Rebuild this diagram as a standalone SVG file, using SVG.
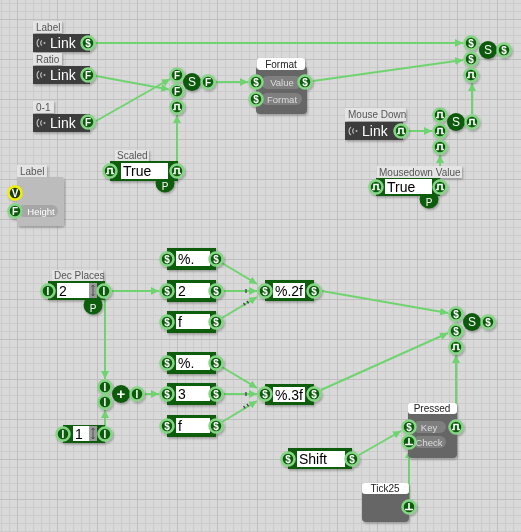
<svg xmlns="http://www.w3.org/2000/svg" width="521" height="532" viewBox="0 0 521 532">
<defs>
<pattern id="grid" width="40" height="40" patternUnits="userSpaceOnUse" x="17" y="19">
<rect width="40" height="40" fill="#d9d9d9"/>
<path d="M8.5 0V40M16.5 0V40M24.5 0V40M32.5 0V40M0 8.5H40M0 16.5H40M0 24.5H40M0 32.5H40" stroke="#cbcbcb" stroke-width="1"/>
<path d="M0.5 0V40M0 0.5H40" stroke="#bebebe" stroke-width="1"/>
</pattern>
<marker id="ar" viewBox="0 0 8 8" refX="8" refY="4" markerWidth="8" markerHeight="8" markerUnits="userSpaceOnUse" orient="auto">
<path d="M0 0L8 4L0 8z" fill="#6fd46f"/>
</marker>
<filter id="sh" x="-20%" y="-20%" width="140%" height="140%">
<feDropShadow dx="1" dy="1.5" stdDeviation="0.8" flood-color="#000" flood-opacity="0.3"/>
</filter>
<style>
.cn{stroke:#6fd46f;stroke-width:2;fill:none;marker-end:url(#ar)}
.pt{fill:#0c5c0c;stroke:#86d486;stroke-width:2.5}
.py{fill:#1e3a0c;stroke:#f0f000;stroke-width:2.5}
.pl{fill:#fff;font-family:"Liberation Sans",Arial,sans-serif;font-size:10px;font-weight:bold;text-anchor:middle}
.ic{stroke:#fff;stroke-width:1.6;fill:none}
.jc{fill:#0b5a0b}
.jl{fill:#fff;font-family:"Liberation Sans",Arial,sans-serif;font-size:12px;text-anchor:middle}
.tab{fill:#e4e4e4}
.tabw{fill:#fff}
.tt{fill:#555;font-family:"Liberation Sans",Arial,sans-serif;font-size:10px}
.tw{fill:#222;font-family:"Liberation Sans",Arial,sans-serif;font-size:10px;text-anchor:middle}
.lk{fill:#3d3d3d}
.lki{stroke:#bbb;stroke-width:1.2;fill:none}
.lkt{fill:#fff;font-family:"Liberation Sans",Arial,sans-serif;font-size:14px}
.gn{fill:#0b5d0b}
.wb{fill:#fff}
.sp{fill:#9a9a9a}
.spi{stroke:#555;stroke-width:1;fill:none}
.vt{fill:#000;font-family:"Liberation Sans",Arial,sans-serif;font-size:14px}
.gb{fill:#666}
.pill{fill:#7f7f7f}
.plt{fill:#ddd;font-family:"Liberation Sans",Arial,sans-serif;font-size:9.5px;text-anchor:middle}
.mk{stroke:#444;stroke-width:1.3}
</style>
</defs>
<rect width="521" height="532" fill="url(#grid)"/>

<g id="connectors">
<path class="cn" d="M96 43H463"/>
<path class="cn" d="M96 76L169 89.5"/>
<path class="cn" d="M96 121L170 79"/>
<path class="cn" d="M216 82H248"/>
<path class="cn" d="M177 163V115"/>
<path class="cn" d="M313 81L463 60"/>
<path class="cn" d="M409 131H432"/>
<path class="cn" d="M472 114V83"/>
<path class="cn" d="M440 179V155"/>
<path class="cn" d="M112 291H159"/>
<path class="cn" d="M105 299V379"/>
<path class="cn" d="M105 426V410"/>
<path class="cn" d="M145 394H159"/>
<path class="cn" d="M222 263L257 284"/>
<path class="cn" d="M224 291H257"/>
<path class="cn" d="M222 318L257 297"/>
<path class="cn" d="M222 367L257 388"/>
<path class="cn" d="M224 394H257"/>
<path class="cn" d="M222 422L257 401"/>
<path class="cn" d="M322 291L448 313"/>
<path class="cn" d="M321 390L448 333"/>
<path class="cn" d="M456 419V355"/>
<path class="cn" d="M359 455L401 431"/>
<path class="cn" d="M409 499V450"/>
<path class="mk" d="M246 289V293M243.5 302.8L245.2 305.4M246.9 300.8L248.6 303.4"/>
<path class="mk" d="M246 392V396M243.5 405.8L245.2 408.4M246.9 403.8L248.6 406.4"/>
</g>

<g id="link-label" filter="url(#sh)">
<rect class="tab" x="33" y="21" width="29" height="12"/>
<text class="tt" x="36" y="30.5">Label</text>
<rect class="lk" x="33" y="34" width="57" height="18"/>
<path class="lki" d="M39 39a5 5 0 0 0 0 8M42 40.5a3 3 0 0 0 0 5"/>
<circle cx="44.5" cy="43" r="1" fill="#bbb"/>
<text class="lkt" x="50" y="48">Link</text>
<circle class="pt" cx="88" cy="43" r="6.5"/><text class="pl" x="88" y="46.5">$</text>
</g>

<g id="link-ratio" filter="url(#sh)">
<rect class="tab" x="33" y="53" width="29" height="12"/>
<text class="tt" x="36" y="62.5">Ratio</text>
<rect class="lk" x="33" y="66" width="57" height="18"/>
<path class="lki" d="M39 71a5 5 0 0 0 0 8M42 72.5a3 3 0 0 0 0 5"/>
<circle cx="44.5" cy="75" r="1" fill="#bbb"/>
<text class="lkt" x="50" y="80">Link</text>
<circle class="pt" cx="88" cy="75" r="6.5"/><text class="pl" x="88" y="78.5">F</text>
</g>

<g id="link-01" filter="url(#sh)">
<rect class="tab" x="33" y="101" width="21" height="12"/>
<text class="tt" x="36" y="110.5">0-1</text>
<rect class="lk" x="33" y="114" width="57" height="18"/>
<path class="lki" d="M39 119a5 5 0 0 0 0 8M42 120.5a3 3 0 0 0 0 5"/>
<circle cx="44.5" cy="123" r="1" fill="#bbb"/>
<text class="lkt" x="50" y="128">Link</text>
<circle class="pt" cx="88" cy="122" r="6.5"/><text class="pl" x="88" y="125.5">F</text>
</g>

<g id="junction-ratio" filter="url(#sh)">
<circle class="jc" cx="192" cy="82" r="9"/><text class="jl" x="192" y="86">S</text>
<circle class="pt" cx="177" cy="75" r="6.5"/><text class="pl" x="177" y="78.5">F</text>
<circle class="pt" cx="177" cy="91" r="6.5"/><text class="pl" x="177" y="94.5">F</text>
<circle class="pt" cx="177" cy="107" r="6.5"/><path class="ic" d="M173 109.5h2v-5h4v5h2"/>
<circle class="pt" cx="208" cy="82" r="6.5"/><text class="pl" x="208" y="85.5">F</text>
</g>

<g id="scaled" filter="url(#sh)">
<rect class="tab" x="115" y="150" width="34" height="11"/>
<text class="tt" x="117" y="159">Scaled</text>
<rect class="gn" x="110" y="161" width="68" height="20"/>
<circle class="gn" cx="165" cy="183" r="9.5"/>
<rect class="wb" x="121" y="163" width="47" height="16"/>
<text class="vt" x="123" y="176">True</text>
<text class="pl" x="165" y="190" style="font-weight:normal">P</text>
<circle class="pt" cx="110" cy="171" r="6.5"/><path class="ic" d="M106 173.5h2v-5h4v5h2"/>
<circle class="pt" cx="177" cy="171" r="6.5"/><path class="ic" d="M173 173.5h2v-5h4v5h2"/>
</g>

<g id="format" filter="url(#sh)">
<rect class="gb" x="256" y="66" width="51" height="48" rx="4"/>
<rect class="tabw" x="257" y="58" width="48" height="12" rx="3"/>
<text class="tw" x="281" y="67.5">Format</text>
<rect class="pill" x="261" y="76" width="41" height="13" rx="6.5"/>
<text class="plt" x="282" y="86">Value</text>
<rect class="pill" x="261" y="93" width="41" height="12" rx="6"/>
<text class="plt" x="282" y="102.5">Format</text>
<circle class="pt" cx="256" cy="82" r="6.5"/><text class="pl" x="256" y="85.5">$</text>
<circle class="pt" cx="305" cy="82" r="6.5"/><text class="pl" x="305" y="85.5">$</text>
<circle class="pt" cx="256" cy="99" r="6.5"/><text class="pl" x="256" y="102.5">$</text>
</g>

<g id="junction-top" filter="url(#sh)">
<circle class="jc" cx="488" cy="50" r="9"/><text class="jl" x="488" y="54">S</text>
<circle class="pt" cx="471" cy="43" r="6.5"/><text class="pl" x="471" y="46.5">$</text>
<circle class="pt" cx="471" cy="59" r="6.5"/><text class="pl" x="471" y="62.5">$</text>
<circle class="pt" cx="471" cy="75" r="6.5"/><path class="ic" d="M467 77.5h2v-5h4v5h2"/>
<circle class="pt" cx="504" cy="50" r="6.5"/><text class="pl" x="504" y="53.5">$</text>
</g>

<g id="mouse-down" filter="url(#sh)">
<rect class="tab" x="345" y="108" width="61" height="13"/>
<text class="tt" x="348" y="118">Mouse Down</text>
<rect class="lk" x="345" y="122" width="58" height="18"/>
<path class="lki" d="M351 127a5 5 0 0 0 0 8M354 128.5a3 3 0 0 0 0 5"/>
<circle cx="356.5" cy="131" r="1" fill="#bbb"/>
<text class="lkt" x="362" y="136">Link</text>
<circle class="pt" cx="401" cy="131" r="6.5"/><path class="ic" d="M397 133.5h2v-5h4v5h2"/>
</g>

<g id="junction-mouse" filter="url(#sh)">
<circle class="jc" cx="456" cy="122" r="9"/><text class="jl" x="456" y="126">S</text>
<circle class="pt" cx="440" cy="115" r="6.5"/><path class="ic" d="M436 117.5h2v-5h4v5h2"/>
<circle class="pt" cx="440" cy="131" r="6.5"/><path class="ic" d="M436 133.5h2v-5h4v5h2"/>
<circle class="pt" cx="440" cy="147" r="6.5"/><path class="ic" d="M436 149.5h2v-5h4v5h2"/>
<circle class="pt" cx="472" cy="122" r="6.5"/><path class="ic" d="M468 124.5h2v-5h4v5h2"/>
</g>

<g id="mousedown-value" filter="url(#sh)">
<rect class="tab" x="377" y="166" width="85" height="12"/>
<text class="tt" x="379" y="175.5">Mousedown Value</text>
<rect class="gn" x="376" y="178" width="64" height="18"/>
<circle class="gn" cx="429" cy="199" r="9.5"/>
<rect class="wb" x="385" y="179" width="47" height="15"/>
<text class="vt" x="387" y="192">True</text>
<text class="pl" x="429" y="206" style="font-weight:normal">P</text>
<circle class="pt" cx="376" cy="187" r="6.5"/><path class="ic" d="M372 189.5h2v-5h4v5h2"/>
<circle class="pt" cx="440" cy="187" r="6.5"/><path class="ic" d="M436 189.5h2v-5h4v5h2"/>
</g>

<g id="label-height" filter="url(#sh)">
<rect class="tab" x="17" y="165" width="30" height="12"/>
<text class="tt" x="20" y="174.5">Label</text>
<rect x="17" y="177" width="47" height="49" rx="3" fill="#bcbcbc"/>
<rect x="18" y="205" width="40" height="12" rx="6" fill="#a6a6a6"/>
<text class="plt" x="41" y="214.5" style="fill:#fff">Height</text>
<circle class="py" cx="15" cy="193" r="6.5"/><text class="pl" x="15" y="196.5">V</text>
<circle class="pt" cx="15" cy="211" r="6.5"/><text class="pl" x="15" y="214.5">F</text>
</g>

<g id="dec-places" filter="url(#sh)">
<rect class="tab" x="52" y="270" width="51" height="11"/>
<text class="tt" x="54" y="279">Dec Places</text>
<rect class="gn" x="48" y="281" width="57" height="19"/>
<circle class="gn" cx="93" cy="305" r="9.5"/>
<rect class="wb" x="57" y="283" width="32" height="15"/>
<rect class="sp" x="89" y="283" width="8" height="15"/>
<path class="spi" d="M93 285.5V295.5M91.5 287l1.5-2 1.5 2M91.5 294l1.5 2 1.5-2"/>
<text class="vt" x="59" y="296">2</text>
<text class="pl" x="93" y="312" style="font-weight:normal">P</text>
<circle class="pt" cx="48" cy="291" r="6.5"/><text class="pl" x="48" y="294.5">I</text>
<circle class="pt" cx="104" cy="291" r="6.5"/><text class="pl" x="104" y="294.5">I</text>
</g>

<g id="int-one" filter="url(#sh)">
<rect class="gn" x="63" y="425" width="42" height="18"/>
<rect class="wb" x="73" y="426" width="16" height="15"/>
<rect class="sp" x="89" y="426" width="8" height="15"/>
<path class="spi" d="M93 428.5V438.5M91.5 430l1.5-2 1.5 2M91.5 437l1.5 2 1.5-2"/>
<text class="vt" x="75" y="439">1</text>
<circle class="pt" cx="63" cy="434" r="6.5"/><text class="pl" x="63" y="437.5">I</text>
<circle class="pt" cx="105" cy="434" r="6.5"/><text class="pl" x="105" y="437.5">I</text>
</g>

<g id="plus" filter="url(#sh)">
<circle class="jc" cx="121" cy="394" r="9"/><text class="jl" x="121" y="399" style="font-weight:bold;font-size:15px">+</text>
<circle class="pt" cx="105" cy="387" r="6.5"/><text class="pl" x="105" y="390.5">I</text>
<circle class="pt" cx="105" cy="402" r="6.5"/><text class="pl" x="105" y="405.5">I</text>
<circle class="pt" cx="137" cy="394" r="6.5"/><text class="pl" x="137" y="397.5">I</text>
</g>

<g id="str-pct1" filter="url(#sh)">
<rect class="gn" x="167" y="248" width="49" height="22"/>
<rect class="wb" x="176" y="251" width="34" height="15"/>
<text class="vt" x="178" y="264">%.</text>
<circle class="pt" cx="167" cy="259" r="6.5"/><text class="pl" x="167" y="262.5">$</text>
<circle class="pt" cx="216" cy="259" r="6.5"/><text class="pl" x="216" y="262.5">$</text>
</g>
<g id="str-2" filter="url(#sh)">
<rect class="gn" x="167" y="280" width="49" height="22"/>
<rect class="wb" x="176" y="283" width="34" height="15"/>
<text class="vt" x="178" y="296">2</text>
<circle class="pt" cx="167" cy="291" r="6.5"/><text class="pl" x="167" y="294.5">$</text>
<circle class="pt" cx="216" cy="291" r="6.5"/><text class="pl" x="216" y="294.5">$</text>
</g>
<g id="str-f1" filter="url(#sh)">
<rect class="gn" x="167" y="311" width="49" height="22"/>
<rect class="wb" x="176" y="314" width="34" height="15"/>
<text class="vt" x="178" y="327">f</text>
<circle class="pt" cx="167" cy="322" r="6.5"/><text class="pl" x="167" y="325.5">$</text>
<circle class="pt" cx="216" cy="322" r="6.5"/><text class="pl" x="216" y="325.5">$</text>
</g>
<g id="fmt-2f" filter="url(#sh)">
<rect class="gn" x="265" y="280" width="49" height="21"/>
<rect class="wb" x="273" y="283" width="32" height="15"/>
<text class="vt" x="275" y="296">%.2f</text>
<circle class="pt" cx="265" cy="291" r="6.5"/><text class="pl" x="265" y="294.5">$</text>
<circle class="pt" cx="314" cy="291" r="6.5"/><text class="pl" x="314" y="294.5">$</text>
</g>

<g id="str-pct2" filter="url(#sh)">
<rect class="gn" x="167" y="352" width="49" height="22"/>
<rect class="wb" x="176" y="355" width="34" height="15"/>
<text class="vt" x="178" y="368">%.</text>
<circle class="pt" cx="167" cy="363" r="6.5"/><text class="pl" x="167" y="366.5">$</text>
<circle class="pt" cx="216" cy="363" r="6.5"/><text class="pl" x="216" y="366.5">$</text>
</g>
<g id="str-3" filter="url(#sh)">
<rect class="gn" x="167" y="383" width="49" height="22"/>
<rect class="wb" x="176" y="386" width="34" height="15"/>
<text class="vt" x="178" y="399">3</text>
<circle class="pt" cx="167" cy="394" r="6.5"/><text class="pl" x="167" y="397.5">$</text>
<circle class="pt" cx="216" cy="394" r="6.5"/><text class="pl" x="216" y="397.5">$</text>
</g>
<g id="str-f2" filter="url(#sh)">
<rect class="gn" x="167" y="415" width="49" height="22"/>
<rect class="wb" x="176" y="418" width="34" height="15"/>
<text class="vt" x="178" y="431">f</text>
<circle class="pt" cx="167" cy="426" r="6.5"/><text class="pl" x="167" y="429.5">$</text>
<circle class="pt" cx="216" cy="426" r="6.5"/><text class="pl" x="216" y="429.5">$</text>
</g>
<g id="fmt-3f" filter="url(#sh)">
<rect class="gn" x="265" y="384" width="49" height="21"/>
<rect class="wb" x="273" y="387" width="32" height="15"/>
<text class="vt" x="275" y="400">%.3f</text>
<circle class="pt" cx="265" cy="394" r="6.5"/><text class="pl" x="265" y="397.5">$</text>
<circle class="pt" cx="314" cy="394" r="6.5"/><text class="pl" x="314" y="397.5">$</text>
</g>

<g id="junction-bottom" filter="url(#sh)">
<circle class="jc" cx="472" cy="322" r="9"/><text class="jl" x="472" y="326">S</text>
<circle class="pt" cx="456" cy="314" r="6.5"/><text class="pl" x="456" y="317.5">$</text>
<circle class="pt" cx="456" cy="331" r="6.5"/><text class="pl" x="456" y="334.5">$</text>
<circle class="pt" cx="456" cy="347" r="6.5"/><path class="ic" d="M452 349.5h2v-5h4v5h2"/>
<circle class="pt" cx="488" cy="322" r="6.5"/><text class="pl" x="488" y="325.5">$</text>
</g>

<g id="pressed" filter="url(#sh)">
<rect class="gb" x="408" y="410" width="49" height="48" rx="4"/>
<rect class="tabw" x="408" y="403" width="49" height="11" rx="3"/>
<text class="tw" x="432" y="412">Pressed</text>
<rect class="pill" x="413" y="421" width="33" height="12" rx="6"/>
<text class="plt" x="429" y="430.5">Key</text>
<rect class="pill" x="413" y="436" width="33" height="12" rx="6"/>
<text class="plt" x="429" y="445.5">Check</text>
<circle class="pt" cx="409" cy="427" r="6.5"/><text class="pl" x="409" y="430.5">$</text>
<circle class="pt" cx="409" cy="442" r="6.5"/><path class="ic" d="M409 438v6.5M405 444.5h8"/>
<circle class="pt" cx="456" cy="427" r="6.5"/><path class="ic" d="M452 429.5h2v-5h4v5h2"/>
</g>

<g id="shift" filter="url(#sh)">
<rect class="gn" x="288" y="448" width="64" height="21"/>
<rect class="wb" x="297" y="451" width="48" height="16"/>
<text class="vt" x="299" y="464">Shift</text>
<circle class="pt" cx="288" cy="459" r="6.5"/><text class="pl" x="288" y="462.5">$</text>
<circle class="pt" cx="352" cy="459" r="6.5"/><text class="pl" x="352" y="462.5">$</text>
</g>

<g id="tick25" filter="url(#sh)">
<rect class="gb" x="362" y="490" width="47" height="32" rx="4"/>
<rect class="tabw" x="362" y="483" width="47" height="11" rx="3"/>
<text class="tw" x="385" y="492">Tick25</text>
<circle class="pt" cx="409" cy="507" r="6.5"/><path class="ic" d="M409 503v6.5M405 509.5h8"/>
</g>
</svg>
